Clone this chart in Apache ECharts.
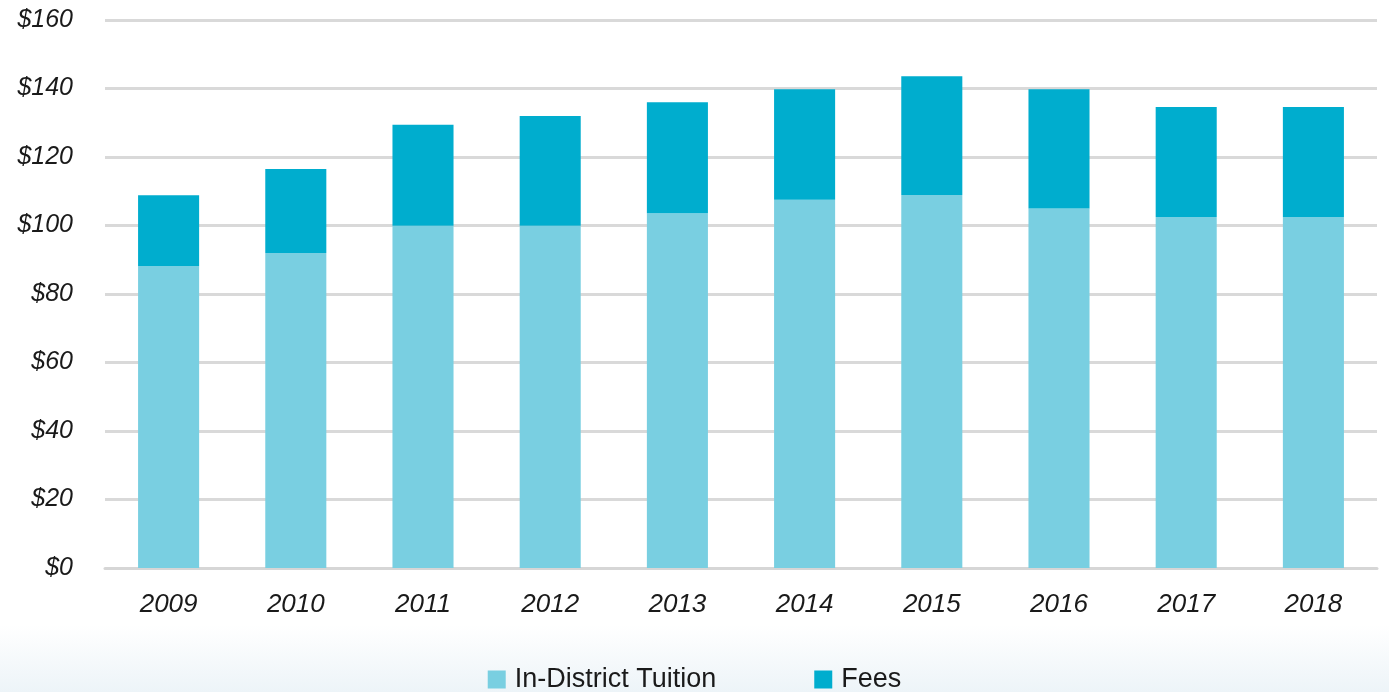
<!DOCTYPE html>
<html>
<head>
<meta charset="utf-8">
<script src="https://cdn.jsdelivr.net/npm/echarts@6/dist/echarts.min.js"></script>
<style>
  html, body { margin: 0; padding: 0; }
  body {
    width: 1389px; height: 692px;
    background: linear-gradient(to bottom, #ffffff 0px, #ffffff 625px, #edf4f8 692px);
  }
  #chart { width: 1389px; height: 692px; }
</style>
</head>
<body>
<div id="chart"></div>
<script>
const years = ['2009', '2010', '2011', '2012', '2013', '2014', '2015', '2016', '2017', '2018']
const tuition = [88.2, 92.0, 99.9, 99.9, 103.6, 107.5, 108.9, 105.0, 102.5, 102.5]
const fees = [20.6, 24.5, 29.5, 32.1, 32.4, 32.3, 34.7, 34.8, 32.1, 32.1]

const labelFont = { fontFamily: 'Liberation Sans, Arial, sans-serif', fontStyle: 'italic', color: '#1a1a1a' }

const chart = echarts.init(document.getElementById('chart'))
chart.setOption({
  backgroundColor: 'transparent',
  animation: false,
  grid: { left: 105, right: 12, top: 20, bottom: 124, containLabel: false },
  legend: {
    top: 661,
    left: 'center',
    itemWidth: 18,
    itemHeight: 18,
    itemGap: 98,
    icon: 'rect',
    textStyle: { fontFamily: 'Liberation Sans, Arial, sans-serif', fontSize: 27, color: '#1a1a1a', padding: [0, 0, 0, 4] },
    data: ['In-District Tuition', 'Fees']
  },
  xAxis: {
    type: 'category',
    data: years,
    axisTick: { show: false },
    axisLine: { lineStyle: { color: '#d6d6d6', width: 3 } },
    axisLabel: { ...labelFont, fontSize: 26, margin: 24 }
  },
  yAxis: {
    type: 'value',
    min: 0,
    max: 160,
    interval: 20,
    axisLine: { show: false },
    axisTick: { show: false },
    splitLine: { lineStyle: { color: '#d9d9d9', width: 3 } },
    axisLabel: { ...labelFont, fontSize: 25, margin: 32, formatter: v => '$' + v }
  },
  series: [
    { name: 'In-District Tuition', type: 'bar', stack: 'total', barWidth: '48%', itemStyle: { color: '#79cfe1' }, data: tuition },
    { name: 'Fees', type: 'bar', stack: 'total', barWidth: '48%', itemStyle: { color: '#00adce' }, data: fees }
  ]
})
</script>
</body>
</html>
